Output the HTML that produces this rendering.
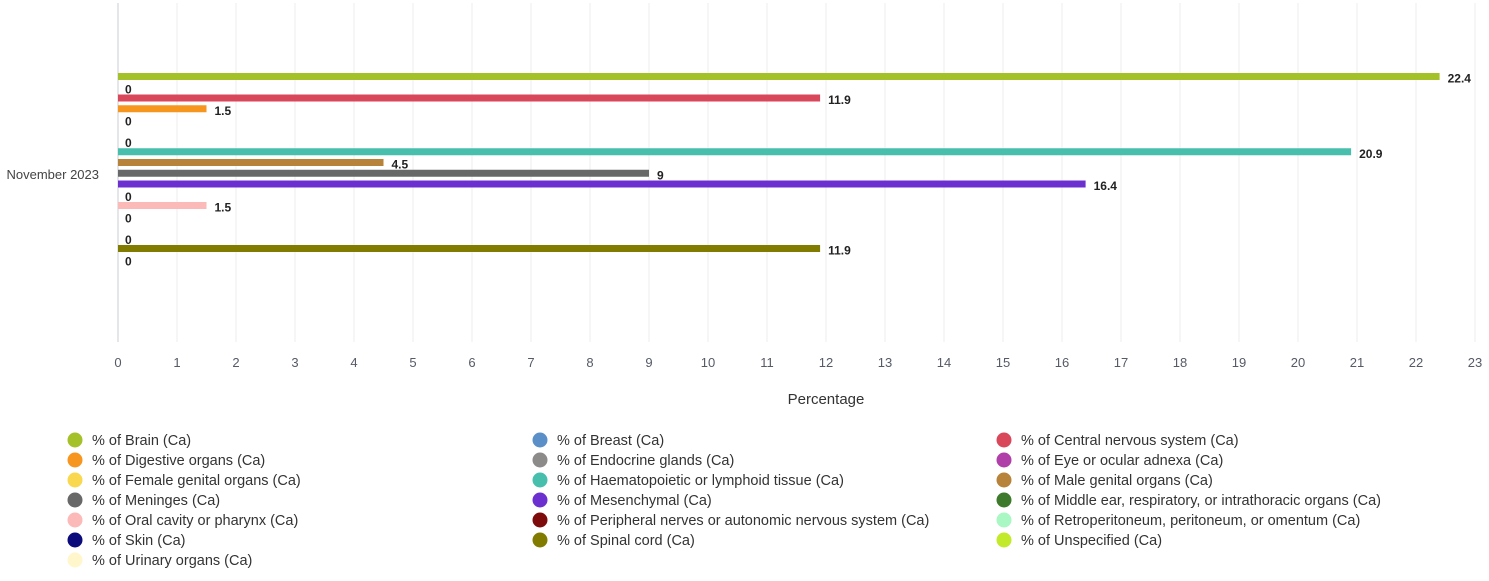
<!DOCTYPE html>
<html><head><meta charset="utf-8"><style>
body{margin:0;background:#fff;font-family:"Liberation Sans",sans-serif;}
svg text{font-family:"Liberation Sans",sans-serif;}
</style></head><body>
<svg width="1489" height="576" id="c"></svg>
<script>
const seriesNames=["Brain","Breast","Central nervous system","Digestive organs","Endocrine glands","Eye or ocular adnexa","Female genital organs","Haematopoietic or lymphoid tissue","Male genital organs","Meninges","Mesenchymal","Middle ear, respiratory, or intrathoracic organs","Oral cavity or pharynx","Peripheral nerves or autonomic nervous system","Retroperitoneum, peritoneum, or omentum","Skin","Spinal cord","Unspecified","Urinary organs"];
const seriesValues=[22.4,0,11.9,1.5,0,0,0,20.9,4.5,9,16.4,0,1.5,0,0,0,11.9,0,0];
const seriesColors=["#a5c12a","#5b8fc7","#d9475b","#f7961f","#8d8a8a","#b13fa9","#f9d84f","#47bfac","#b7823a","#686868","#6c30d0","#3e7a2b","#fbbab8","#7e0b0b","#a9f7c3","#0b0b7c","#817c00","#c2ea2a","#fff7cb"];
const hiddenZero=[5,14,18];
const xTicks=[0,1,2,3,4,5,6,7,8,9,10,11,12,13,14,15,16,17,18,19,20,21,22,23];
const category="November 2023";
const svgEl=document.getElementById('c');
const NS="http://www.w3.org/2000/svg";
const X0=118,X1=1475,XMAX=23,plotTop=3,plotBot=342;
const xs=v=>X0+(X1-X0)*v/XMAX;
const ys=i=>76.5+i*10.75;
function el(t,a,txt){const e=document.createElementNS(NS,t);for(const k in a)e.setAttribute(k,a[k]);if(txt!==undefined)e.textContent=txt;svgEl.appendChild(e);return e;}
xTicks.forEach(t=>{
 const g=el('line',{x1:xs(t),x2:xs(t),y1:plotTop,y2:plotBot,stroke:t===0?'#c8ccd6':'#ececec','stroke-width':1});
 
 
 const l=el('text',{x:xs(t),y:367,'text-anchor':'middle','font-size':13,fill:'#555a66'},String(t));
 
 
});
const ct=el('text',{x:99,y:179,'text-anchor':'end','font-size':13,fill:'#444'},category);


const xt=el('text',{x:826,y:404,'text-anchor':'middle','font-size':15,fill:'#333'},"Percentage");


seriesValues.forEach((v,i)=>{
 const y=ys(i);
 if(v>0){
  const b=el('rect',{x:X0,y:y-3.5,width:xs(v)-X0,height:7,fill:seriesColors[i]});
  
  
 }
 if(v>0||hiddenZero.indexOf(i)<0){
  const t=el('text',{x:xs(v)+(v>0?8:7),y:y+6,'font-size':12,'font-weight':'bold',fill:'#222',stroke:'#fff','stroke-width':3,'paint-order':'stroke'},String(v));
  
  
 }
});
seriesNames.forEach((n,i)=>{
 const col=i%3,row=Math.floor(i/3);
 const cx=[75,540,1004][col],cy=440+row*20;
 const c=el('circle',{cx:cx,cy:cy,r:7.5,fill:seriesColors[i]});
 
 
 const t=el('text',{x:cx+17,y:cy+5,'font-size':14.5,fill:'#333'},"% of "+n+" (Ca)");
 
 
});
</script>
</body></html>
